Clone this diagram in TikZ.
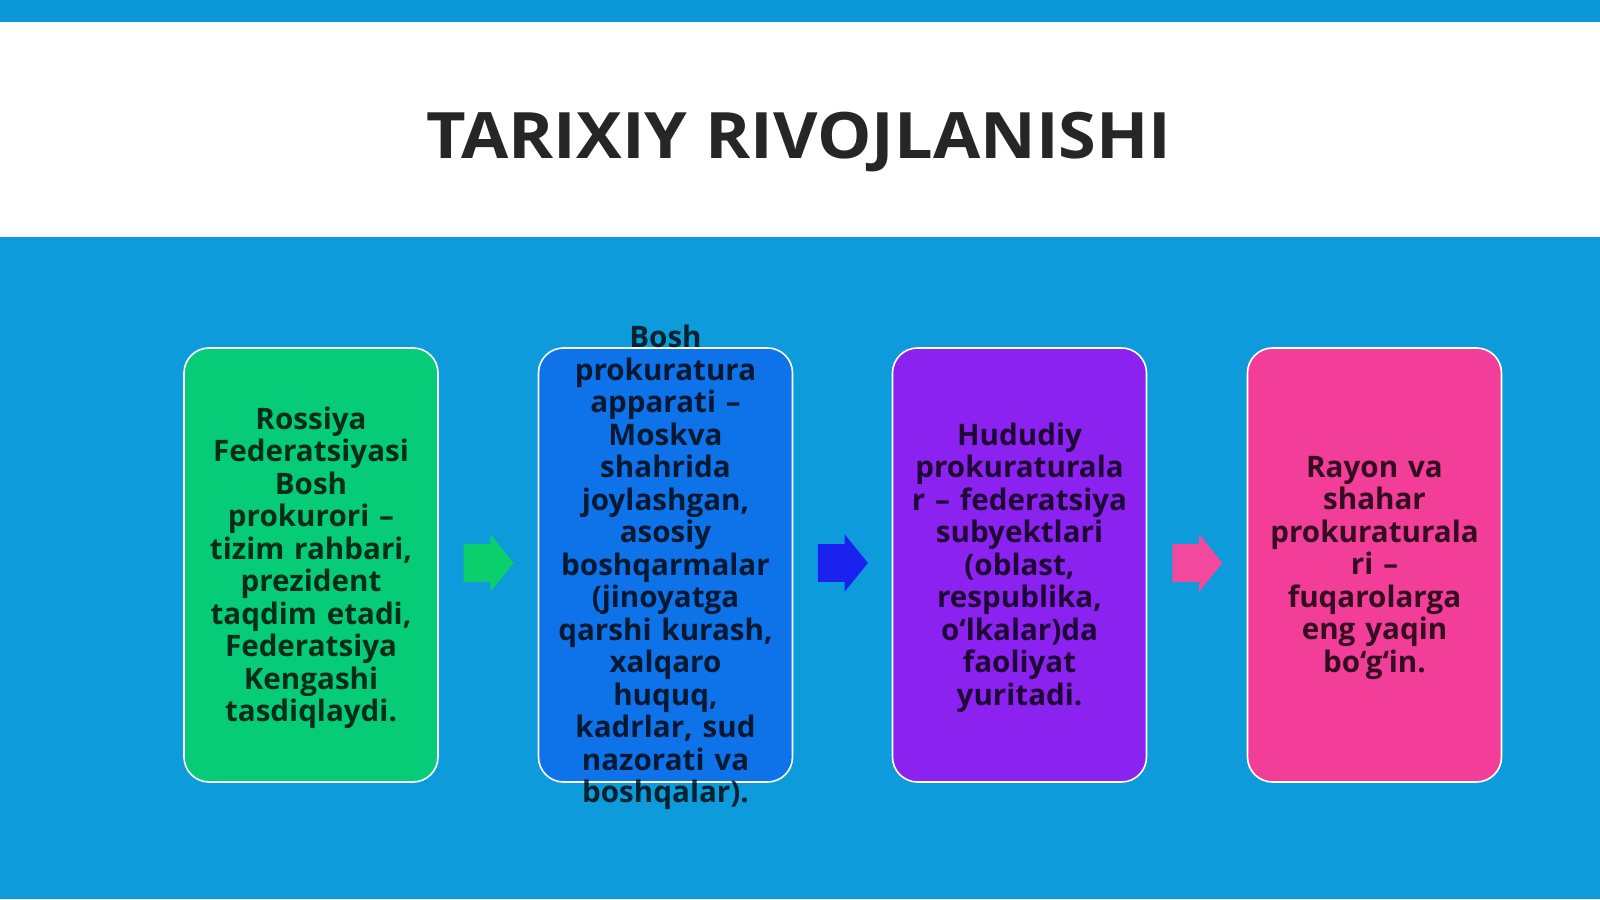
\documentclass[tikz,border=0pt]{standalone}
\usepackage{fontspec}
\setmainfont{Open Sans}
\newfontfamily\titlefont[FakeStretch=1.07]{Open Sans}
\usetikzlibrary{positioning,shapes.arrows,calc}

\definecolor{sky}{HTML}{0E9BDB}
\definecolor{topbar}{HTML}{0A98D9}
\definecolor{titlegray}{HTML}{262626}
\definecolor{boxgreen}{HTML}{06CC77}
\definecolor{boxblue}{HTML}{0E72E8}
\definecolor{boxpurple}{HTML}{8C22F0}
\definecolor{boxpink}{HTML}{F23E98}
\definecolor{arrgreen}{HTML}{0BCF6C}
\definecolor{arrblue}{HTML}{1B22F0}
\definecolor{arrpink}{HTML}{F2489E}

\begin{document}
\begin{tikzpicture}[x=0.5pt, y=0.5pt,
  box/.style={rounded corners=12.5pt, draw=white, line width=0.8pt, minimum width=127pt, minimum height=217pt, inner sep=0pt},
  txt/.style={text width=122pt, align=center, inner sep=0pt, font=\bfseries\fontsize{14.8}{16.25}\selectfont, text=black, text opacity=0.78},
  flow/.style={single arrow, draw=none, anchor=tail, single arrow head extend=5pt, single arrow tip angle=102, minimum height=25pt, text height=18.5pt, text depth=0pt, inner sep=0pt}]
\useasboundingbox (0,0) rectangle (1600,899);

% background and title band
\fill[sky] (0,0) rectangle (1600,899);
\fill[topbar] (0,877) rectangle (1600,899);
\fill[white] (0,662) rectangle (1600,877);
\node[font=\titlefont\bfseries\fontsize{32}{36}\selectfont, text=titlegray] (title) at (799,757) {TARIXIY RIVOJLANISHI};

% boxes
\node[box, fill=boxgreen] (b1) at (311,334) {};
\node[box, fill=boxblue] (b2) at (665.5,334) {};
\node[box, fill=boxpurple] (b3) at (1019.5,334) {};
\node[box, fill=boxpink] (b4) at (1374.5,334) {};

% box texts
\node[txt] (t1) at ([yshift=-1.3pt]b1.center) {Rossiya\\ Federatsiyasi\\ Bosh\\ prokurori –\\ tizim rahbari,\\ prezident\\ taqdim etadi,\\ Federatsiya\\ Kengashi\\ tasdiqlaydi.};
\node[txt] (t2) at ([yshift=-1.3pt]b2.center) {Bosh\\ prokuratura\\ apparati –\\ Moskva\\ shahrida\\ joylashgan,\\ asosiy\\ boshqarmalar\\ (jinoyatga\\ qarshi kurash,\\ xalqaro\\ huquq,\\ kadrlar, sud\\ nazorati va\\ boshqalar).};
\node[txt] (t3) at ([yshift=-1.3pt]b3.center) {Hududiy\\ prokuraturala\\ r – federatsiya\\ subyektlari\\ (oblast,\\ respublika,\\ o‘lkalar)da\\ faoliyat\\ yuritadi.};
\node[txt] (t4) at ([yshift=-1.3pt]b4.center) {Rayon va\\ shahar\\ prokuraturala\\ ri –\\ fuqarolarga\\ eng yaqin\\ bo‘g‘in.};

% arrows between boxes
\node[flow, fill=arrgreen] (a12) at ($(b1.east)!0.5!(b2.west)+(-25,2)$) {};
\node[flow, fill=arrblue] (a23) at ($(b2.east)!0.5!(b3.west)+(-25,2)$) {};
\node[flow, fill=arrpink] (a34) at ($(b3.east)!0.5!(b4.west)+(-25,2)$) {};
\end{tikzpicture}
\end{document}
